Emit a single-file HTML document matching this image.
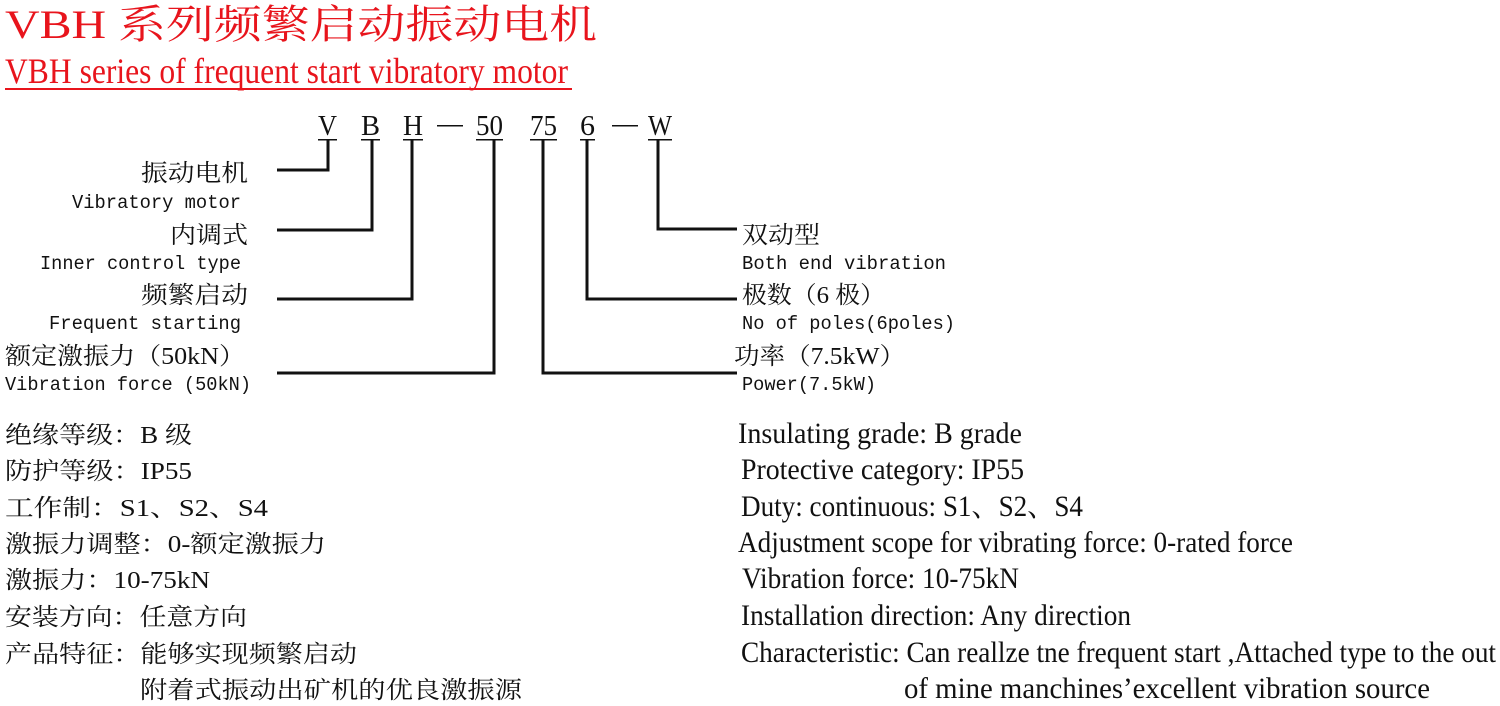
<!DOCTYPE html>
<html><head><meta charset="utf-8"><style>
html,body{margin:0;padding:0;background:#fff;width:1500px;height:706px;overflow:hidden}
svg{display:block}
.s{font-family:"Liberation Serif","Noto Serif CJK SC",serif}
.c{font-family:"Liberation Serif","Noto Serif CJK SC","Noto Sans CJK SC",serif}
.m{font-family:"Liberation Mono","DejaVu Sans Mono",monospace}
</style></head><body>
<svg width="1500" height="706" viewBox="0 0 1500 706" xmlns="http://www.w3.org/2000/svg">
<g fill="#e8141c">
<text class="c" x="5" y="38" font-size="40" textLength="592" lengthAdjust="spacingAndGlyphs">VBH 系列频繁启动振动电机</text>
<text class="s" x="5" y="83" font-size="36" textLength="563" lengthAdjust="spacingAndGlyphs">VBH series of frequent start vibratory motor</text>
<rect x="5" y="88" width="567" height="2"/>
</g>
<g fill="#111" class="s" font-size="29">
<text x="318" y="135" textLength="19" lengthAdjust="spacingAndGlyphs">V</text>
<text x="361" y="135" textLength="19" lengthAdjust="spacingAndGlyphs">B</text>
<text x="403" y="135" textLength="20" lengthAdjust="spacingAndGlyphs">H</text>
<text x="476" y="135" textLength="27" lengthAdjust="spacingAndGlyphs">50</text>
<text x="530" y="135" textLength="27" lengthAdjust="spacingAndGlyphs">75</text>
<text x="580" y="135" textLength="15" lengthAdjust="spacingAndGlyphs">6</text>
<text x="648" y="135" textLength="24" lengthAdjust="spacingAndGlyphs">W</text>
<rect x="318" y="139" width="19" height="1.5"/><rect x="361" y="139" width="19" height="1.5"/>
<rect x="403" y="139" width="20" height="1.5"/><rect x="476" y="139" width="27" height="1.5"/>
<rect x="530" y="139" width="27" height="1.5"/><rect x="580" y="139" width="15" height="1.5"/>
<rect x="648" y="139" width="24" height="1.5"/>
<rect x="437" y="125" width="26" height="1.5"/><rect x="612" y="125" width="26" height="1.5"/>
</g>
<g stroke="#111" stroke-width="3" fill="none">
<polyline points="328,140 328,170 277,170"/>
<polyline points="372,140 372,230 277,230"/>
<polyline points="412,140 412,299 277,299"/>
<polyline points="494,140 494,373 277,373"/>
<polyline points="543,140 543,373 737,373"/>
<polyline points="587,140 587,299 737,299"/>
<polyline points="658,140 658,229 737,229"/>
</g>
<g fill="#111">
<g class="c" font-size="24">
<text x="141" y="181" textLength="107" lengthAdjust="spacingAndGlyphs">振动电机</text>
<text x="170" y="243" textLength="78" lengthAdjust="spacingAndGlyphs">内调式</text>
<text x="141" y="303" textLength="107" lengthAdjust="spacingAndGlyphs">频繁启动</text>
<text x="5" y="364" textLength="240" lengthAdjust="spacingAndGlyphs">额定激振力（50kN）</text>
<text x="742" y="243" textLength="78" lengthAdjust="spacingAndGlyphs">双动型</text>
<text x="742" y="303" textLength="143" lengthAdjust="spacingAndGlyphs">极数（6 极）</text>
<text x="734" y="364" textLength="171" lengthAdjust="spacingAndGlyphs">功率（7.5kW）</text>
</g>
<g class="m" font-size="19">
<text x="72" y="208" textLength="169" lengthAdjust="spacingAndGlyphs">Vibratory motor</text>
<text x="40" y="269" textLength="201" lengthAdjust="spacingAndGlyphs">Inner control type</text>
<text x="49" y="329" textLength="192" lengthAdjust="spacingAndGlyphs">Frequent starting</text>
<text x="5" y="390" textLength="246" lengthAdjust="spacingAndGlyphs">Vibration force (50kN)</text>
<text x="742" y="269" textLength="204" lengthAdjust="spacingAndGlyphs">Both end vibration</text>
<text x="742" y="329" textLength="213" lengthAdjust="spacingAndGlyphs">No of poles(6poles)</text>
<text x="742" y="390" textLength="134" lengthAdjust="spacingAndGlyphs">Power(7.5kW)</text>
</g>
<g class="c" font-size="24">
<text x="5" y="443" textLength="187" lengthAdjust="spacingAndGlyphs">绝缘等级：B 级</text>
<text x="5" y="479" textLength="187" lengthAdjust="spacingAndGlyphs">防护等级：IP55</text>
<text x="5" y="516" textLength="263" lengthAdjust="spacingAndGlyphs">工作制：S1、S2、S4</text>
<text x="5" y="552" textLength="321" lengthAdjust="spacingAndGlyphs">激振力调整：0-额定激振力</text>
<text x="5" y="588" textLength="205" lengthAdjust="spacingAndGlyphs">激振力：10-75kN</text>
<text x="5" y="625" textLength="242" lengthAdjust="spacingAndGlyphs">安装方向：任意方向</text>
<text x="5" y="662" textLength="352" lengthAdjust="spacingAndGlyphs">产品特征：能够实现频繁启动</text>
<text x="140" y="698" textLength="382" lengthAdjust="spacingAndGlyphs">附着式振动出矿机的优良激振源</text>
</g>
<g class="s" font-size="30">
<text x="738" y="443" textLength="284" lengthAdjust="spacingAndGlyphs">Insulating grade:  B grade</text>
<text x="741" y="479" textLength="283" lengthAdjust="spacingAndGlyphs">Protective category:  IP55</text>
<text x="741" y="516" textLength="342" lengthAdjust="spacingAndGlyphs">Duty: continuous: S1、S2、S4</text>
<text x="738" y="552" textLength="555" lengthAdjust="spacingAndGlyphs">Adjustment scope for vibrating force: 0-rated force</text>
<text x="742" y="588" textLength="277" lengthAdjust="spacingAndGlyphs">Vibration force: 10-75kN</text>
<text x="741" y="625" textLength="390" lengthAdjust="spacingAndGlyphs">Installation direction: Any direction</text>
<text x="741" y="662" textLength="755" lengthAdjust="spacingAndGlyphs">Characteristic: Can reallze tne frequent start ,Attached type to the out</text>
<text x="904" y="698" textLength="526" lengthAdjust="spacingAndGlyphs">of   mine   manchines’excellent vibration source</text>
</g>
</g>
</svg>
</body></html>
